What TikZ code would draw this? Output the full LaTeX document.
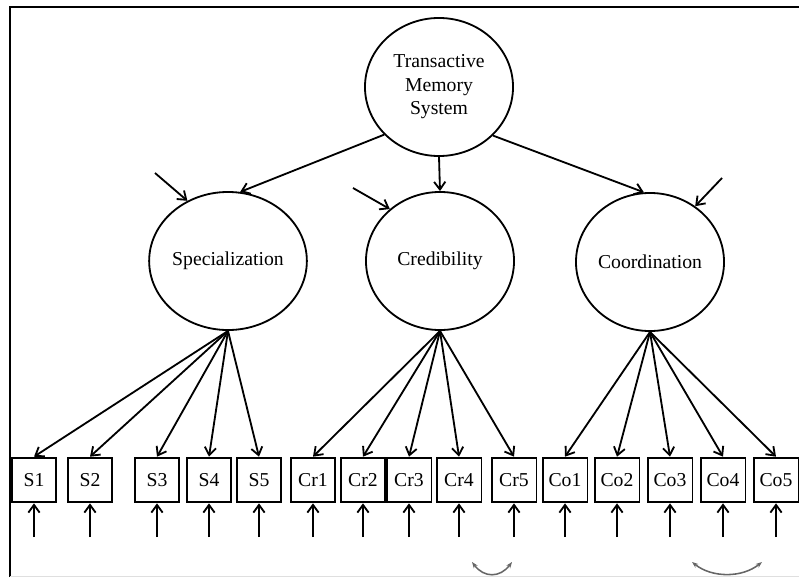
\documentclass[tikz,border=0pt]{standalone}
\usepackage{fontspec}
\setmainfont{Liberation Serif}
\usepackage{tikz}
\usetikzlibrary{shapes.geometric,arrows.meta,positioning,calc}
\tikzset{
    latent/.style={draw,ellipse,line width=1.3pt,minimum width=3.7cm,minimum height=3.45cm,inner sep=0pt,align=center,font=\fontsize{14}{16.7}\selectfont},
    indicator/.style={draw,rectangle,line width=1.3pt,minimum width=1.12cm,minimum height=1.12cm,inner sep=0pt,font=\fontsize{14}{16.7}\selectfont},
    path/.style={line width=1.3pt,-{Straight Barb[length=5.5pt,width=8pt]}},
    covar/.style={line width=1.1pt,gray!80!black,{Stealth[length=4.5pt]}-{Stealth[length=4.5pt]}}
}
\begin{document}
\begin{tikzpicture}[x=0.025cm,y=-0.025cm]
    \useasboundingbox (0,0) rectangle (799,577);
    % frame
    \draw[line width=1.8pt] (10,577) -- (10,7) -- (799,7);
    \draw[gray!25] (10,576) -- (799,576);

    % latent variables
    \node[latent] (tms) at (439,87) {Transactive\\Memory\\System};
    \node[latent] (spec) at (228,261) {Specialization};
    \node[latent] (cred) at (440,261) {Credibility};
    \node[latent] (coord) at (650,262) {Coordination};

    \draw[path] (tms.221) -- (spec.80);
    \draw[path] (tms.south) -- (cred.north);
    \draw[path] (tms.318) -- (coord.95);

    % disturbances
    \coordinate (dspec) at (155,173);
    \coordinate (dcred) at (353,188);
    \coordinate (dcoord) at (722,178);
    \draw[path] (dspec) -- (spec.124);
    \draw[path] (dcred) -- (cred.134);
    \draw[path] (dcoord) -- (coord.51);

    % indicators with loadings and error terms
    \foreach \name/\lab/\x/\lat in {s1/S1/34/spec, s2/S2/90/spec, s3/S3/157/spec, s4/S4/209/spec, s5/S5/259/spec,
        cr1/Cr1/313/cred, cr2/Cr2/363/cred, cr3/Cr3/409/cred, cr4/Cr4/459/cred, cr5/Cr5/514/cred,
        co1/Co1/565/coord, co2/Co2/617/coord, co3/Co3/670/coord, co4/Co4/723/coord, co5/Co5/776/coord} {
        \node[indicator] (\name) at (\x,480) {\lab};
        \draw[path] (\lat.south) -- (\name.north);
        \coordinate (e\name) at (\x,537);
        \draw[path] (e\name) -- (\name.south);
    }

    % correlated errors
    \coordinate (ca) at (472,562);
    \coordinate (cb) at (512,562);
    \coordinate (cc) at (692,562);
    \coordinate (cd) at (762,562);
    \draw[covar] (ca) .. controls (484,578) and (500,578) .. (cb);
    \draw[covar] (cc) .. controls (712,578) and (742,578) .. (cd);
\end{tikzpicture}
\end{document}
